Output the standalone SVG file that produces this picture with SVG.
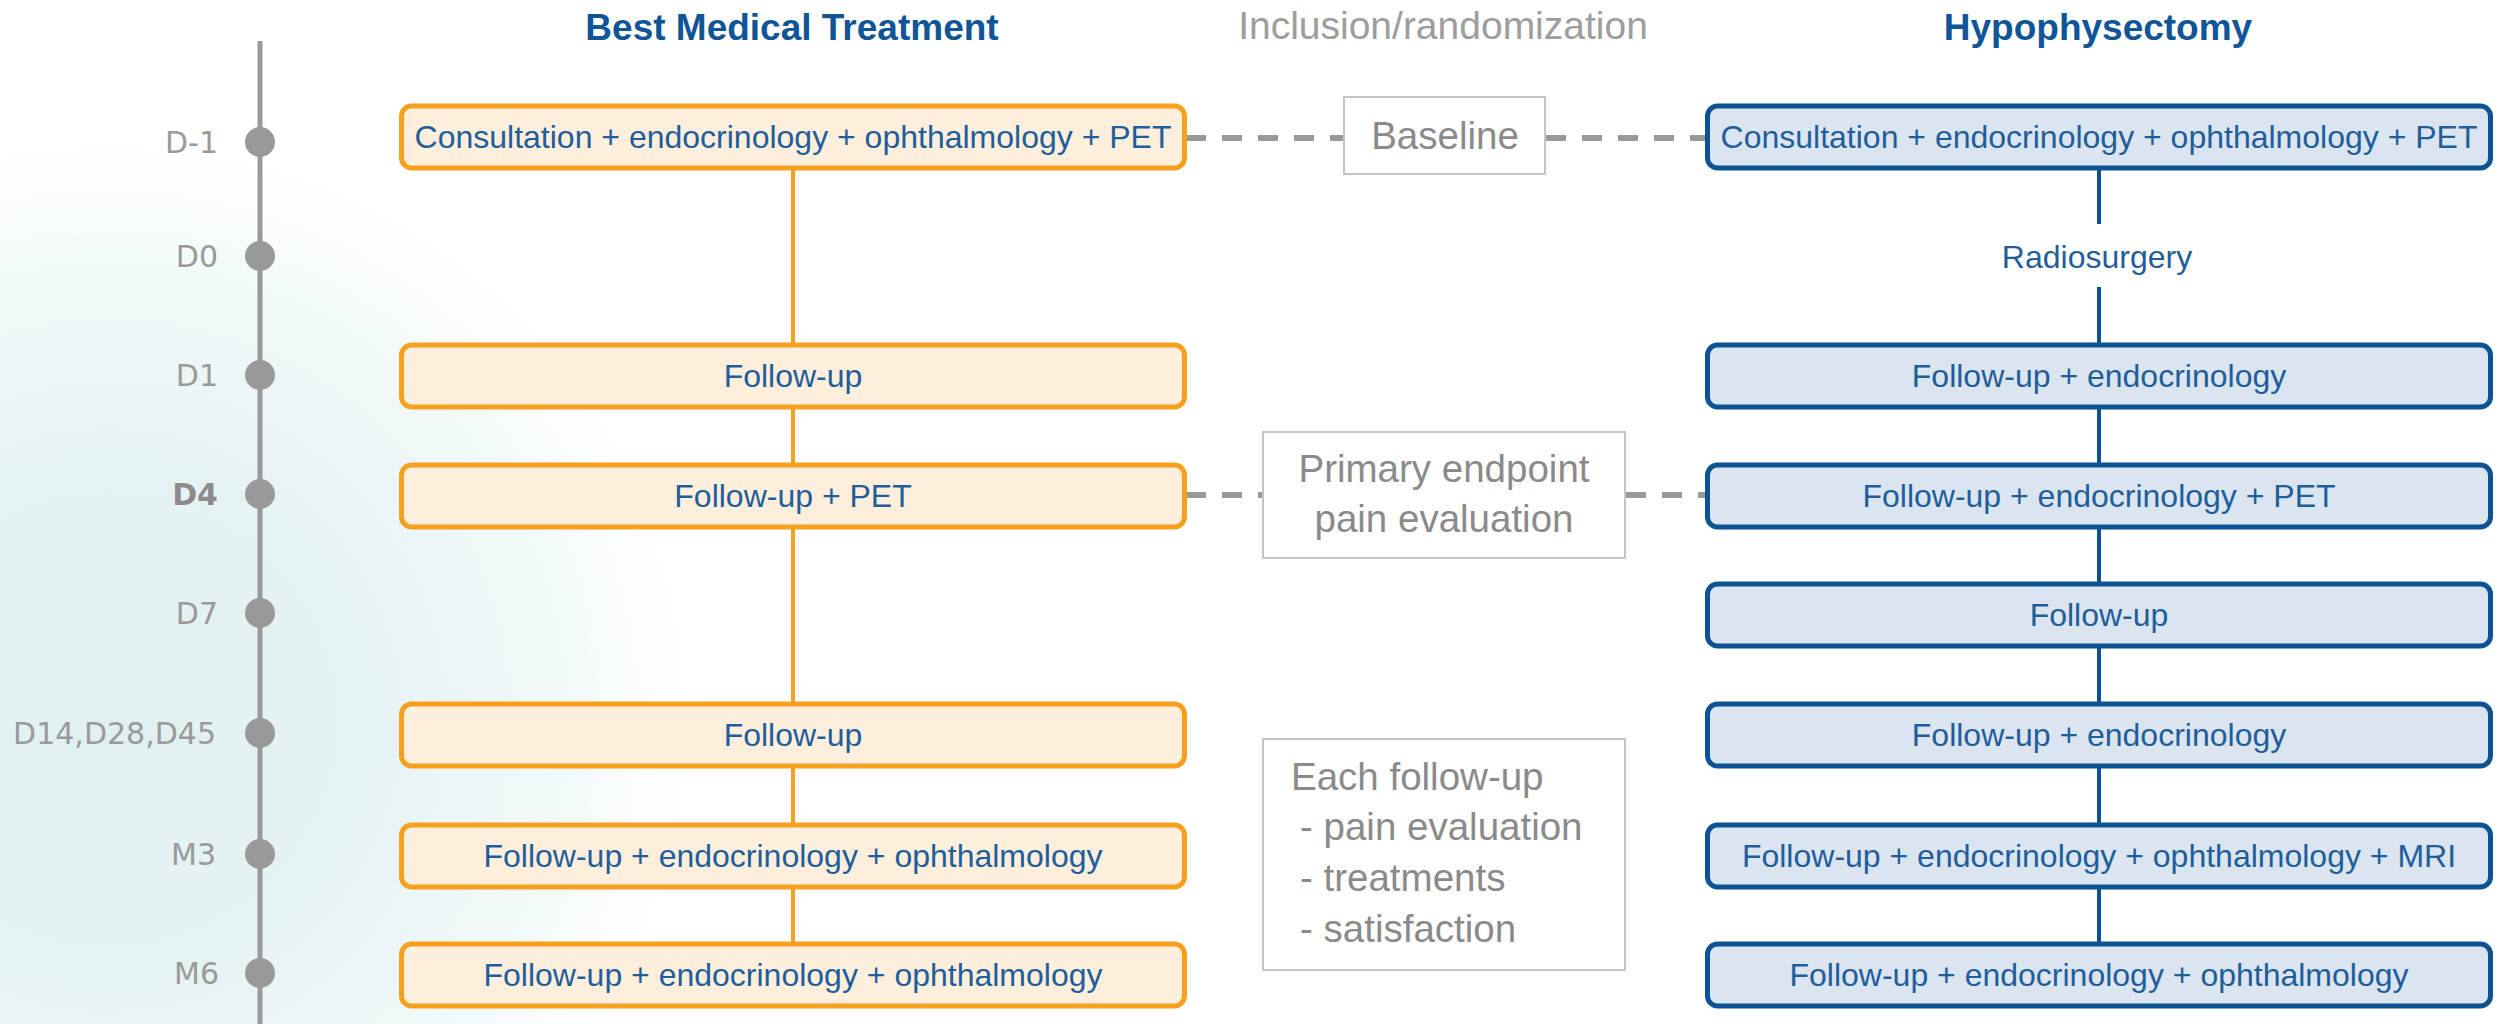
<svg xmlns="http://www.w3.org/2000/svg" width="2499" height="1024" viewBox="0 0 2499 1024">
<defs>
<radialGradient id="haze" cx="110" cy="720" r="600" gradientUnits="userSpaceOnUse">
<stop offset="0" stop-color="#e0f0f0"/>
<stop offset="0.45" stop-color="#e6f3f3"/>
<stop offset="0.8" stop-color="#f4fafa"/>
<stop offset="1" stop-color="#ffffff" stop-opacity="0"/>
</radialGradient>
<style>
.tl{stroke:#999;stroke-width:5;fill:none}
.dot{fill:#999}
.lbl{font-family:"DejaVu Sans",sans-serif;font-size:30px;fill:#9a9a9a;text-anchor:end}
.lblb{font-weight:bold;fill:#8c8c8c}
.hdr{font-family:"Liberation Sans",Arial,sans-serif;font-size:37px;font-weight:bold;fill:#0f5597;text-anchor:middle}
.hdrg{font-family:"Liberation Sans",Arial,sans-serif;font-size:39px;fill:#9d9d9d;text-anchor:middle}
.ob{fill:#fdefdb;stroke:#f7a01e;stroke-width:5}
.bb{fill:#dae5f0;stroke:#0d5393;stroke-width:5}
.bt{font-family:"Liberation Sans",Arial,sans-serif;font-size:32px;fill:#1f5d9b;text-anchor:middle}
.oc{stroke:#f7a01e;stroke-width:4;fill:none}
.bc{stroke:#0d5393;stroke-width:4;fill:none}
.dash{stroke:#999;stroke-width:6;stroke-dasharray:20 16;fill:none}
.gb{fill:#ffffff;stroke:#c4c4c4;stroke-width:2}
.gt{font-family:"Liberation Sans",Arial,sans-serif;font-size:38.5px;fill:#8a8a8a}
</style>
</defs>
<rect width="2499" height="1024" fill="#ffffff"/>
<rect x="0" y="0" width="1000" height="1024" fill="url(#haze)"/>

<g id="timeline">
<line class="tl" x1="260" y1="41" x2="260" y2="1024"/>
<circle class="dot" cx="260" cy="142" r="15"/>
<circle class="dot" cx="260" cy="256" r="15"/>
<circle class="dot" cx="260" cy="375" r="15"/>
<circle class="dot" cx="260" cy="494" r="15"/>
<circle class="dot" cx="260" cy="613" r="15"/>
<circle class="dot" cx="260" cy="733" r="15"/>
<circle class="dot" cx="260" cy="854" r="15"/>
<circle class="dot" cx="260" cy="973" r="15"/>
<text class="lbl" x="218" y="153">D-1</text>
<text class="lbl" x="218" y="267">D0</text>
<text class="lbl" x="218" y="386">D1</text>
<text class="lbl lblb" x="218" y="505">D4</text>
<text class="lbl" x="218" y="624">D7</text>
<text class="lbl" x="216" y="744">D14,D28,D45</text>
<text class="lbl" x="216" y="865">M3</text>
<text class="lbl" x="219" y="984">M6</text>
</g>

<g id="headers">
<text class="hdr" x="792" y="40">Best Medical Treatment</text>
<text class="hdrg" x="1443" y="39">Inclusion/randomization</text>
<text class="hdr" x="2098" y="40">Hypophysectomy</text>
</g>

<g id="connectors">
<line class="oc" x1="793" y1="170" x2="793" y2="343"/>
<line class="oc" x1="793" y1="409" x2="793" y2="463"/>
<line class="oc" x1="793" y1="529" x2="793" y2="702"/>
<line class="oc" x1="793" y1="768" x2="793" y2="823"/>
<line class="oc" x1="793" y1="888" x2="793" y2="942"/>
<line class="bc" x1="2099" y1="170" x2="2099" y2="224"/>
<line class="bc" x1="2099" y1="287" x2="2099" y2="343"/>
<line class="bc" x1="2099" y1="409" x2="2099" y2="463"/>
<line class="bc" x1="2099" y1="529" x2="2099" y2="583"/>
<line class="bc" x1="2099" y1="648" x2="2099" y2="702"/>
<line class="bc" x1="2099" y1="768" x2="2099" y2="823"/>
<line class="bc" x1="2099" y1="888" x2="2099" y2="942"/>
<line class="dash" x1="1186" y1="138" x2="1344" y2="138"/>
<line class="dash" x1="1546" y1="138" x2="1707" y2="138"/>
<line class="dash" x1="1186" y1="495" x2="1263" y2="495"/>
<line class="dash" x1="1626" y1="495" x2="1707" y2="495"/>
</g>

<g id="bmt-d-1"><rect class="ob" x="401.5" y="106" width="783" height="62" rx="10"/><text class="bt" x="793" y="148">Consultation + endocrinology + ophthalmology + PET</text></g>
<g id="bmt-d1"><rect class="ob" x="401.5" y="345" width="783" height="62" rx="10"/><text class="bt" x="793" y="387">Follow-up</text></g>
<g id="bmt-d4"><rect class="ob" x="401.5" y="465" width="783" height="62" rx="10"/><text class="bt" x="793" y="507">Follow-up + PET</text></g>
<g id="bmt-d14"><rect class="ob" x="401.5" y="704" width="783" height="62" rx="10"/><text class="bt" x="793" y="746">Follow-up</text></g>
<g id="bmt-m3"><rect class="ob" x="401.5" y="825" width="783" height="62" rx="10"/><text class="bt" x="793" y="867">Follow-up + endocrinology + ophthalmology</text></g>
<g id="bmt-m6"><rect class="ob" x="401.5" y="944" width="783" height="62" rx="10"/><text class="bt" x="793" y="986">Follow-up + endocrinology + ophthalmology</text></g>

<g id="baseline"><rect class="gb" x="1344" y="97" width="201" height="77"/><text class="gt" x="1445" y="149" text-anchor="middle">Baseline</text></g>
<g id="primary-endpoint"><rect class="gb" x="1263" y="432" width="362" height="126"/><text class="gt" x="1444" y="482" text-anchor="middle">Primary endpoint</text><text class="gt" x="1444" y="532" text-anchor="middle">pain evaluation</text></g>
<g id="each-follow-up"><rect class="gb" x="1263" y="739" width="362" height="231"/>
<text class="gt" x="1291" y="790">Each follow-up</text>
<text class="gt" x="1300" y="840">- pain evaluation</text>
<text class="gt" x="1300" y="891">- treatments</text>
<text class="gt" x="1300" y="942">- satisfaction</text></g>

<g id="hyp-d-1"><rect class="bb" x="1707.5" y="106" width="783" height="62" rx="10"/><text class="bt" x="2099" y="148">Consultation + endocrinology + ophthalmology + PET</text></g>
<g id="hyp-d0"><text class="bt" x="2097" y="268">Radiosurgery</text></g>
<g id="hyp-d1"><rect class="bb" x="1707.5" y="345" width="783" height="62" rx="10"/><text class="bt" x="2099" y="387">Follow-up + endocrinology</text></g>
<g id="hyp-d4"><rect class="bb" x="1707.5" y="465" width="783" height="62" rx="10"/><text class="bt" x="2099" y="507">Follow-up + endocrinology + PET</text></g>
<g id="hyp-d7"><rect class="bb" x="1707.5" y="584" width="783" height="62" rx="10"/><text class="bt" x="2099" y="626">Follow-up</text></g>
<g id="hyp-d14"><rect class="bb" x="1707.5" y="704" width="783" height="62" rx="10"/><text class="bt" x="2099" y="746">Follow-up + endocrinology</text></g>
<g id="hyp-m3"><rect class="bb" x="1707.5" y="825" width="783" height="62" rx="10"/><text class="bt" x="2099" y="867">Follow-up + endocrinology + ophthalmology + MRI</text></g>
<g id="hyp-m6"><rect class="bb" x="1707.5" y="944" width="783" height="62" rx="10"/><text class="bt" x="2099" y="986">Follow-up + endocrinology + ophthalmology</text></g>
</svg>
